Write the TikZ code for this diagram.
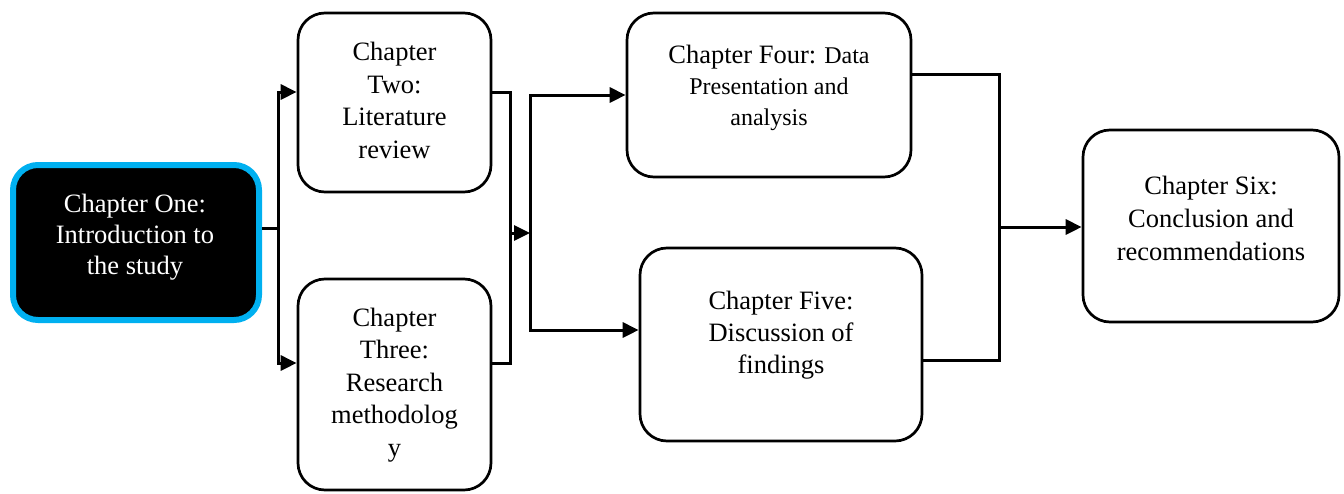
\documentclass[tikz,border=0pt]{standalone}
\usepackage{fontspec}
\setmainfont{Liberation Serif}
\usetikzlibrary{arrows.meta}
\definecolor{chapblue}{RGB}{0,176,240}
\begin{document}
\begin{tikzpicture}[x=1pt,y=-1pt,
  box/.style={draw=black, line width=2.7pt, rounded corners=27pt, fill=white, inner sep=0pt},
  lead/.style={draw=chapblue, line width=6pt, fill=black, rounded corners=25pt, inner sep=0pt},
  txt/.style={align=center, font=\fontsize{26.5}{32.5}\selectfont, inner sep=0pt},
  link/.style={line width=3pt},
  flow/.style={link, -{Triangle[length=16pt,width=15pt]}},
]
\useasboundingbox (0,0) rectangle (1344,493);
\fill[white] (0,0) rectangle (1344,493);

% chapter boxes
\node[lead, minimum width=246pt, minimum height=155pt] (b1) at (136,242.5) {};
\node[box, minimum width=193pt, minimum height=179pt] (b2) at (394.5,102.5) {};
\node[box, minimum width=193pt, minimum height=211pt] (b3) at (394.5,384.5) {};
\node[box, minimum width=284pt, minimum height=164pt] (b4) at (769,95) {};
\node[box, minimum width=282pt, minimum height=193pt] (b5) at (781,344.5) {};
\node[box, minimum width=256pt, minimum height=192pt] (b6) at (1211,226) {};

% chapter titles
\node[txt, text=white, font=\fontsize{26.5}{31}\selectfont] (t1) at (135,237) {Chapter One:\\Introduction to\\the study};
\node[txt] (t2) at (394.5,100.5) {Chapter\\Two:\\Literature\\review};
\node[txt] (t3) at (394.5,385) {Chapter\\Three:\\Research\\methodolog\\y};
\node[txt, font=\fontsize{24}{31}\selectfont] (t4) at (769,87.5)
  {{\fontsize{26.5}{31}\selectfont Chapter Four:} Data\\Presentation and\\analysis};
\node[txt, font=\fontsize{26.5}{32}\selectfont] (t5) at (781,335.5) {Chapter Five:\\Discussion of\\findings};
\node[txt, font=\fontsize{26.5}{33}\selectfont] (t6) at (1211,218) {Chapter Six:\\Conclusion and\\recommendations};

% junction points of the connectors
\coordinate (s1)  at (278,228);
\coordinate (s1t) at (278,92);
\coordinate (s1b) at (278,363);
\coordinate (m2t) at (510,92);
\coordinate (m2b) at (510,363);
\coordinate (m2)  at (510,233);
\coordinate (s3)  at (530,233);
\coordinate (s3t) at (530,95);
\coordinate (s3b) at (530,330);
\coordinate (m4t) at (999,74);
\coordinate (m4b) at (999,360);
\coordinate (m4)  at (999,227);

% chapter one splits into two and three
\draw[link] (b1.east |- s1) -- (s1);
\draw[flow] (s1) -- (s1t) -- (b2.west |- s1t);
\draw[flow] (s1) -- (s1b) -- (b3.west |- s1b);

% two and three merge, then split into four and five
\draw[link] (b2.east |- m2t) -- (m2t) -- (m2b) -- (b3.east |- m2b);
\draw[flow] (m2) -- (s3);
\draw[flow] (s3) -- (s3t) -- (b4.west |- s3t);
\draw[flow] (s3) -- (s3b) -- (b5.west |- s3b);

% four and five merge into six
\draw[link] (b4.east |- m4t) -- (m4t) -- (m4b) -- (b5.east |- m4b);
\draw[flow] (m4) -- (b6.west |- m4);
\end{tikzpicture}
\end{document}
